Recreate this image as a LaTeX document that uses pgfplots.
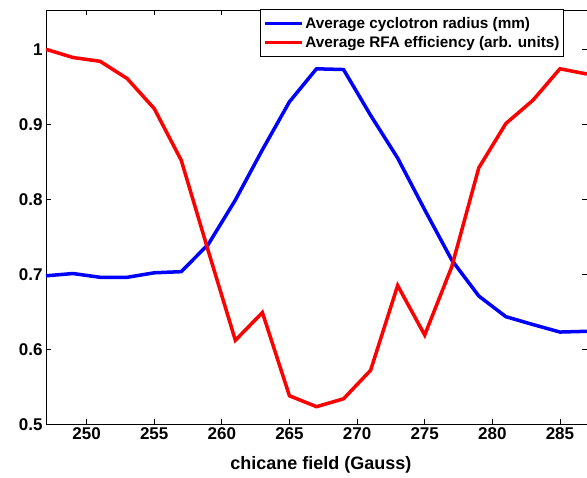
\documentclass[border=0pt]{standalone}
\usepackage{pgfplots}
\pgfplotsset{compat=1.18}
\usepackage{fontspec}
\setmainfont{Liberation Sans}
\definecolor{mblue}{RGB}{0,0,255}
\definecolor{mred}{RGB}{255,0,0}
\begin{document}
\begin{tikzpicture}
\useasboundingbox (-46pt,-53.7pt) rectangle (541pt,424.3pt);
\begin{axis}[
  at={(0pt,0pt)}, anchor=south west,
  scale only axis, width=541pt, height=414.3pt,
  xmin=247, xmax=287, ymin=0.5, ymax=1.0524,
  xtick={250,255,260,265,270,275,280,285},
  ytick={0.5,0.6,0.7,0.8,0.9,1},
  tick align=inside, major tick length=5pt,
  axis line style={line width=0.9pt},
  tick style={line width=0.7pt,black},
  ticklabel style={font=\fontsize{17}{19}\selectfont\bfseries},
  /pgf/number format/assume math mode=true,
  yticklabel style={/pgf/number format/fixed,/pgf/number format/precision=1},
  xlabel={chicane field (Gauss)},
  xlabel style={font=\fontsize{18}{20}\selectfont\bfseries, at={(axis description cs:0.508,-0.110)}, anchor=base},
  legend style={at={(0.9575,1.002)}, anchor=north east, draw=black, line width=0.9pt,
    font=\fontsize{15.3}{17}\selectfont\bfseries, fill=white, inner xsep=2pt, inner ysep=5.5pt, row sep=2.5pt},
  legend cell align=left,
  legend image code/.code={\draw[line width=3.5pt] plot coordinates {(0pt,0pt) (37pt,0pt)};},
]
\addplot[mblue, line width=3.5pt] coordinates {
(247,0.698) (249,0.701) (251,0.696) (253,0.696) (255,0.702) (257,0.7035)
(259,0.740) (261,0.799) (263,0.866) (265,0.930) (267,0.974) (269,0.973)
(271,0.912) (273,0.855) (275,0.786) (277,0.719) (279,0.671) (281,0.6435)
(283,0.633) (285,0.623) (287,0.624)};
\addlegendentry{Average cyclotron radius (mm)}
\addplot[mred, line width=3.5pt] coordinates {
(247,1.000) (249,0.989) (251,0.984) (253,0.961) (255,0.921) (257,0.852)
(259,0.731) (261,0.612) (263,0.649) (265,0.538) (267,0.5235) (269,0.534)
(271,0.572) (273,0.685) (275,0.619) (277,0.710) (279,0.842) (281,0.901)
(283,0.932) (285,0.974) (287,0.967)};
\addlegendentry{Average RFA efficiency (arb. units)}
\end{axis}
\end{tikzpicture}
\end{document}
